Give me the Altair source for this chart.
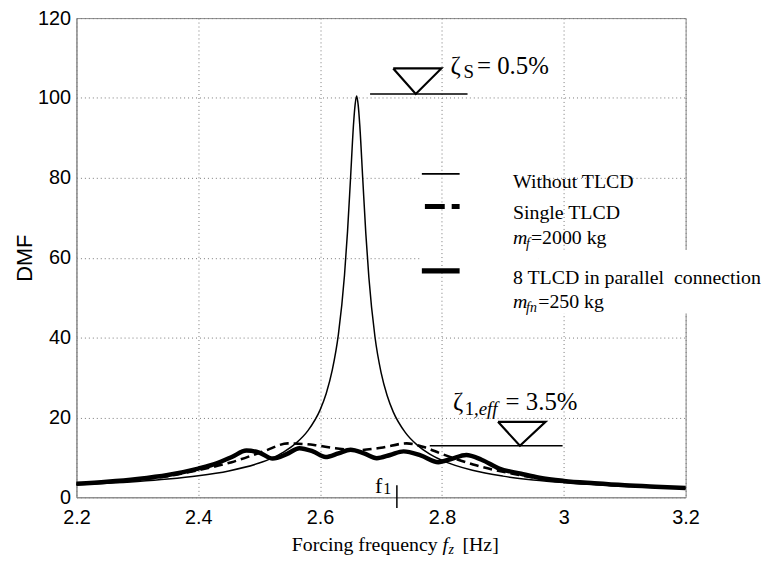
import altair as alt
import pandas as pd

# ---------------- data ----------------
freq_without = [2.20, 2.25, 2.30, 2.35, 2.40, 2.45, 2.50, 2.52, 2.54, 2.56, 2.58, 2.60, 2.61, 2.62,
                2.63, 2.64, 2.645, 2.65, 2.655, 2.6575, 2.66, 2.6625, 2.665, 2.67, 2.675, 2.68,
                2.69, 2.70, 2.71, 2.72, 2.74, 2.76, 2.78, 2.80, 2.85, 2.90, 2.95, 3.00, 3.05,
                3.10, 3.15, 3.20]
dmf_without = [3.17, 3.51, 3.96, 4.56, 5.38, 6.60, 8.57, 9.75, 11.33, 13.5, 16.7, 21.9, 26.0, 31.9,
               40.8, 55.6, 66.6, 80.1, 93.8, 98.4, 100.5, 98.2, 93.4, 79.7, 66.1, 55.1,
               40.2, 31.3, 25.5, 21.4, 16.2, 13.0, 10.8, 9.25, 6.76, 5.30, 4.35, 3.68, 3.18,
               2.79, 2.49, 2.24]

freq_single = [2.20, 2.25, 2.30, 2.35, 2.40, 2.455, 2.509, 2.547, 2.59, 2.625, 2.66, 2.70, 2.742,
               2.77, 2.799, 2.856, 2.916, 2.96, 3.00, 3.05, 3.10, 3.15, 3.20]
dmf_single = [3.4, 3.8, 4.4, 5.3, 6.8, 8.8, 11.6, 13.5, 13.1, 12.3, 11.8, 12.4, 13.5,
              12.6, 10.9, 8.0, 5.9, 4.7, 4.0, 3.4, 2.9, 2.6, 2.3]

freq_multi = [2.20, 2.25, 2.30, 2.35, 2.40, 2.43, 2.455, 2.479, 2.50, 2.522, 2.545, 2.566, 2.588,
              2.609, 2.63, 2.650, 2.672, 2.693, 2.715, 2.737, 2.765, 2.794, 2.815, 2.840, 2.865,
              2.894, 2.93, 2.96, 3.00, 3.05, 3.10, 3.15, 3.20]
dmf_multi = [3.4, 3.9, 4.6, 5.6, 7.2, 8.5, 10.1, 11.7, 11.2, 9.7, 10.8, 12.3, 11.5,
             10.1, 11.0, 11.9, 11.0, 9.8, 10.6, 11.5, 10.5, 8.8, 9.6, 10.6, 9.4,
             7.2, 5.9, 4.9, 4.1, 3.5, 3.0, 2.65, 2.35]

x_ticks = [2.2, 2.4, 2.6, 2.8, 3.0, 3.2]
y_ticks = [0, 20, 40, 60, 80, 100, 120]

# annotation geometry (data units)
zeta_s_level = 101.0
zeta_s_line = [2.682, 2.842]
zeta_s_tri_f = [2.720, 2.799, 2.757, 2.720]
zeta_s_tri_v = [107.4, 107.4, 101.0, 107.4]
zeta_e_level = 12.9
zeta_e_line = [2.780, 2.998]
zeta_e_tri_f = [2.892, 2.970, 2.928, 2.892]
zeta_e_tri_v = [18.9, 18.9, 12.9, 18.9]
f1_freq = 2.726

SERIF = "Liberation Serif"
SANS = "Liberation Sans"

xs = alt.Scale(domain=[2.2, 3.2], nice=False, zero=False)
ys = alt.Scale(domain=[0, 120], nice=False, zero=False)
xaxis = alt.Axis(values=x_ticks, title=None, labelFlush=False,
                 labelExpr="datum.value == 3 ? '3' : format(datum.value, '.1f')")
yaxis = alt.Axis(values=y_ticks, title="DMF")


def X(field="f"):
    return alt.X(f"{field}:Q", scale=xs, axis=xaxis)


def Y(field="v"):
    return alt.Y(f"{field}:Q", scale=ys, axis=yaxis)


def curve(fr, vals, width, dash=None):
    df = pd.DataFrame({"f": fr, "v": vals})
    kw = dict(color="black", strokeWidth=width, interpolate="monotone")
    if dash:
        kw["strokeDash"] = dash
    return alt.Chart(df).mark_line(**kw).encode(x=X(), y=Y())


def polyline(fr, vals, width=1.6):
    df = pd.DataFrame({"f": fr, "v": vals, "i": list(range(len(fr)))})
    return alt.Chart(df).mark_line(color="black", strokeWidth=width).encode(
        x=X(), y=Y(), order="i:Q")


def texts(rows, size, style="normal", font=SERIF):
    df = pd.DataFrame(rows, columns=["t", "f", "v"])
    return alt.Chart(df).mark_text(align="left", baseline="middle", font=font,
                                   fontSize=size, fontStyle=style, color="black").encode(
        x=X(), y=Y(), text="t:N")


# white legend background
rects = alt.Chart(pd.DataFrame({
    "f": [2.765, 2.958], "f2": [2.958, 3.35], "v": [46, 46], "v2": [84, 62]
})).mark_rect(color="white").encode(x=X(), x2="f2", y=Y(), y2="v2")

grid_patch = alt.Chart(pd.DataFrame({"f": [2.8], "v": [46], "v2": [84]})).mark_rule(
    color="#777", strokeDash=[1, 3], strokeWidth=1).encode(x=X(), y=Y(), y2="v2")

# curves
c_multi = curve(freq_multi, dmf_multi, 4.5)
c_single = curve(freq_single, dmf_single, 2.6, [9, 5])
c_without = curve(freq_without, dmf_without, 1.5)

# annotations
ann = [
    polyline(zeta_s_line, [zeta_s_level, zeta_s_level]),
    polyline(zeta_s_tri_f, zeta_s_tri_v, 2.2),
    polyline(zeta_e_line, [zeta_e_level, zeta_e_level]),
    polyline(zeta_e_tri_f, zeta_e_tri_v, 2.2),
]

f1_tick = alt.Chart(pd.DataFrame({"f": [f1_freq], "v": [3.0], "v2": [-2.7]})).mark_rule(
    color="black", strokeWidth=1.5).encode(x=X(), y=Y(), y2="v2")

# legend samples
leg_thin = polyline([2.767, 2.829], [81.0, 81.0], 1.6)
leg_dash = alt.Chart(pd.DataFrame({"f": [2.772, 2.829], "v": [72.8, 72.8]})).mark_line(
    color="black", strokeWidth=5, strokeDash=[20, 7, 8, 30]).encode(x=X(), y=Y())
leg_thick = polyline([2.767, 2.829], [56.7, 56.7], 5.5)

normal_txt = texts([
    ["Without TLCD", 2.9166, 79.0],
    ["Single TLCD", 2.9166, 71.1],
    ["=2000 kg", 2.946, 64.9],
    ["8 TLCD in parallel\u00a0 connection", 2.9166, 55.0],
    ["=250 kg", 2.958, 48.8],
    ["Forcing frequency", 2.5534, -11.9],
    ["[Hz]", 2.8336, -11.9],
], 20)
italic_txt = texts([["m", 2.9166, 64.9], ["m", 2.9166, 48.8], ["f", 2.801, -11.9]], 20, "italic")
italic_sub = texts([["f", 2.938, 63.4], ["fn", 2.938, 47.3], ["z", 2.8107, -13.2]], 14, "italic")

zeta_big = texts([
    ["\u03b6", 2.814, 108.0],
    ["= 0.5%", 2.8575, 108.0],
    ["\u03b6", 2.818, 23.8],
    ["= 3.5%", 2.9045, 23.8],
], 25)
f_label = texts([["f", 2.690, 2.9]], 22)
zeta_sub = texts([["S", 2.8355, 106.4], ["1", 2.8375, 22.0]], 19)
f1_sub = texts([["1", 2.7036, 2.0]], 16)
zeta_sub_it = texts([[",eff", 2.8525, 22.0]], 19, "italic")

chart = alt.layer(
    rects, grid_patch,
    c_multi, c_single, c_without,
    *ann, f1_tick,
    leg_thin, leg_dash, leg_thick,
    normal_txt, italic_txt, italic_sub,
    zeta_big, f_label, zeta_sub, f1_sub, zeta_sub_it,
).properties(
    width=614, height=483,
    padding={"left": 69, "top": 8, "right": 79, "bottom": 59},
    autosize=alt.AutoSizeParams(type="none"),
).configure_view(
    stroke="#888", strokeWidth=1
).configure_axis(
    labelFont=SANS, labelFontSize=20, labelColor="black",
    titleFont=SANS, titleFontSize=22, titleFontWeight="normal", titleColor="black",
    domainColor="#888", ticks=False,
    gridColor="#777", gridDash=[1, 3], gridOpacity=1, gridWidth=1,
).configure_axisY(
    labelPadding=6, titlePadding=1
).configure_axisX(
    labelPadding=10
)

chart.save("out.html", embed_options={"renderer": "svg", "actions": False})
